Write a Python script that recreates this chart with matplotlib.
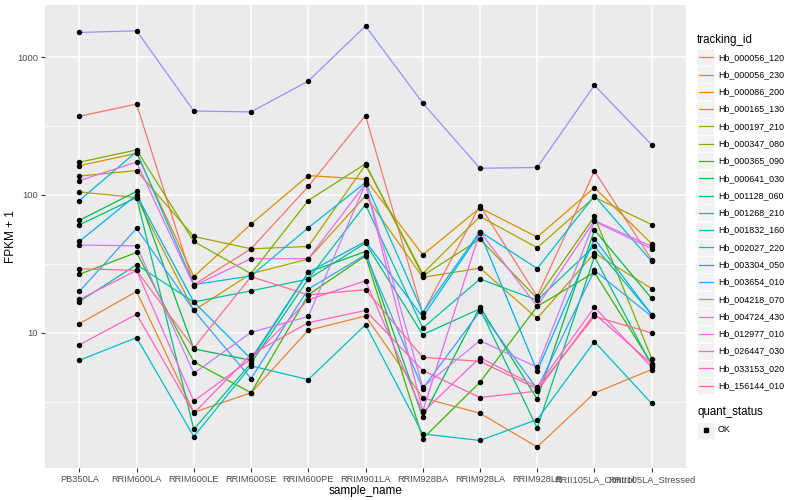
import matplotlib
matplotlib.use("Agg")
import matplotlib.pyplot as plt
import numpy as np
from matplotlib.lines import Line2D
from matplotlib.patches import Rectangle

plt.rcParams['font.family'] = ['Liberation Sans', 'DejaVu Sans']

samples = ["PB350LA", "RRIM600LA", "RRIM600LE", "RRIM600SE", "RRIM600PE",
           "RRIM901LA", "RRIM928BA", "RRIM928LA", "RRIM928LB",
           "RRII105LA_Control", "RRII105LA_Stressed"]

tracking_ids = ["Hb_000056_120", "Hb_000056_230", "Hb_000086_200", "Hb_000165_130",
                "Hb_000197_210", "Hb_000347_080", "Hb_000365_090", "Hb_000641_030",
                "Hb_001128_060", "Hb_001268_210", "Hb_001832_160", "Hb_002027_220",
                "Hb_003304_050", "Hb_003654_010", "Hb_004218_070", "Hb_004724_430",
                "Hb_012977_010", "Hb_026447_030", "Hb_033153_020", "Hb_156144_010"]

hb_000056_120 = [372, 456, 22.3, 40.6, 115, 376, 13.8, 83.6, 18.3, 149, 33.8]
hb_000056_230 = [11.6, 19.9, 2.64, 3.66, 10.4, 13.2, 3.36, 2.60, 1.48, 3.64, 5.40]
hb_000086_200 = [163, 200, 25.5, 61.4, 138, 130, 36.7, 80.5, 49.4, 113, 44.2]
hb_000165_130 = [105, 95.6, 14.5, 26.8, 34.2, 98.4, 25.2, 29.4, 12.7, 37.8, 20.9]
hb_000197_210 = [137, 150, 49.9, 40.6, 42.2, 165, 26.8, 69.7, 41.3, 96.2, 60.9]
hb_000347_080 = [172.6, 212, 45.9, 26.8, 91, 168, 25.9, 47.7, 17.7, 69.7, 6.49]
hb_000365_090 = [26.5, 38.2, 6.13, 3.66, 18.8, 36.1, 1.70, 4.37, 15.5, 27.4, 5.94]
hb_000641_030 = [65.3, 106, 7.62, 6.3, 27.4, 38.8, 2.43, 15.4, 3.29, 55.7, 17.7]
hb_001128_060 = [60.6, 95.6, 1.99, 6.0, 24.5, 44.7, 9.68, 14.9, 2.03, 35.7, 5.77]
hb_001268_210 = [16.8, 31.1, 16.7, 20.1, 24.5, 85.1, 10.8, 24.5, 17.2, 42.5, 13.5]
hb_001832_160 = [6.30, 9.2, 1.76, 5.74, 4.56, 11.4, 1.84, 1.65, 2.34, 8.61, 3.06]
hb_002027_220 = [91, 206, 22.3, 25.8, 57.7, 123, 14.0, 54.2, 29.2, 98.4, 32.9]
hb_003304_050 = [45.9, 100, 16.7, 6.45, 27.4, 45.9, 13.0, 52.8, 5.25, 48.0, 13.5]
hb_003654_010 = [19.9, 57.2, 14.5, 4.64, 20.7, 36.7, 3.93, 14.3, 3.91, 28.3, 13.1]
hb_004218_070 = [1510, 1550, 406, 400, 670, 1680, 464, 156, 158, 624, 231]
hb_004724_430 = [43.2, 42.7, 5.07, 10.05, 13.1, 120, 4.02, 8.75, 5.61, 64.1, 40.6]
hb_012977_010 = [127, 173, 21.9, 34.4, 34.4, 120, 2.69, 54.0, 15.5, 65.2, 42.2]
hb_026447_030 = [17.4, 28.3, 3.18, 6.45, 17.3, 23.8, 2.64, 6.59, 4.04, 15.3, 5.61]
hb_033153_020 = [8.15, 13.6, 2.60, 6.93, 11.8, 14.5, 5.31, 3.38, 3.76, 13.7, 5.94]
hb_156144_010 = [29.1, 28.3, 7.73, 25.5, 18.8, 20.5, 6.62, 6.19, 3.91, 13.1, 9.95]

series = [hb_000056_120, hb_000056_230, hb_000086_200, hb_000165_130, hb_000197_210,
          hb_000347_080, hb_000365_090, hb_000641_030, hb_001128_060, hb_001268_210,
          hb_001832_160, hb_002027_220, hb_003304_050, hb_003654_010, hb_004218_070,
          hb_004724_430, hb_012977_010, hb_026447_030, hb_033153_020, hb_156144_010]

palette = ["#F8766D", "#EA8331", "#D89000", "#C09B00", "#A3A500", "#7CAE00", "#39B600",
           "#00BB4E", "#00BF7D", "#00C1A3", "#00BFC4", "#00BAE0", "#00B0F6", "#35A2FF",
           "#9590FF", "#C77CFF", "#E76BF3", "#FA62DB", "#FF62BC", "#FF6C91"]

W, H = 800, 500
fig = plt.figure(figsize=(W / 100, H / 100), dpi=100)
fig.patch.set_facecolor('white')

pl, pr, pt, pb = 45, 686, 5, 468
ax = fig.add_axes([pl / W, 1 - pb / H, (pr - pl) / W, (pb - pt) / H])
ax.set_facecolor('#EBEBEB')
ax.set_yscale('log')

x = np.arange(len(samples))
allv = np.concatenate([np.asarray(s, float) for s in series])
lo, hi = np.log10(allv.min()), np.log10(allv.max())
span = hi - lo
ax.set_ylim(10 ** (lo - 0.05 * span), 10 ** (hi + 0.05 * span))
ax.set_xlim(-0.6, len(samples) - 0.4)

# grid
for v in [10 ** 0.5, 10 ** 1.5, 10 ** 2.5]:
    ax.axhline(v, color='white', lw=0.55, zorder=0)
for v in [10, 100, 1000]:
    ax.axhline(v, color='white', lw=1.1, zorder=0)
for xi in x:
    ax.axvline(xi, color='white', lw=1.1, zorder=0)

for s, c in zip(series, palette):
    ax.plot(x, s, color=c, lw=0.9, zorder=2, solid_capstyle='butt')
for s in series:
    ax.plot(x, s, ls='none', marker='o', ms=2.9, color='black', zorder=3)

ax.set_yticks([10, 100, 1000])
ax.set_yticklabels(["10", "100", "1000"])
ax.yaxis.set_minor_locator(matplotlib.ticker.NullLocator())
ax.set_xticks(x)
ax.set_xticklabels(samples)
ax.tick_params(axis='both', colors='#333333', length=3, width=0.8, labelsize=6.7,
               labelcolor='#4D4D4D', pad=2)
for sp in ax.spines.values():
    sp.set_visible(False)
ax.set_xlabel("sample_name", fontsize=8.5, color='black', labelpad=1)
ax.set_ylabel("FPKM + 1", fontsize=8.5, color='black')
ax.yaxis.set_label_coords((17 - pl) / (pr - pl), 0.5)

# legend drawn in figure pixel coords
def fx(px):
    return px / W

def fy(py):
    return 1 - py / H

fig.text(fx(697), fy(40), "tracking_id", fontsize=8.3, va='center', ha='left')
y0, dy = 57.3, 17.28
for i, (tid, c) in enumerate(zip(tracking_ids, palette)):
    yc = y0 + i * dy
    fig.patches.append(Rectangle((fx(697), fy(yc + 8.5)), 17 / W, 17 / H,
                                 transform=fig.transFigure, facecolor='#F2F2F2',
                                 edgecolor='white', lw=0.5))
    fig.lines.append(Line2D([fx(699), fx(713)], [fy(yc), fy(yc)], color=c, lw=0.9,
                            transform=fig.transFigure))
    fig.text(fx(718), fy(yc), tid, fontsize=6.4, va='center', ha='left')

fig.text(fx(697), fy(412), "quant_status", fontsize=8.3, va='center', ha='left')
yc = 430
fig.patches.append(Rectangle((fx(697), fy(yc + 8.5)), 17 / W, 17 / H,
                             transform=fig.transFigure, facecolor='#F2F2F2',
                             edgecolor='white', lw=0.5))
fig.lines.append(Line2D([fx(705.5)], [fy(yc)], marker='s', ms=2.6, color='black',
                        ls='none', transform=fig.transFigure))
fig.text(fx(718), fy(yc), "OK", fontsize=6.4, va='center', ha='left')

fig.savefig("out.png", dpi=100)
